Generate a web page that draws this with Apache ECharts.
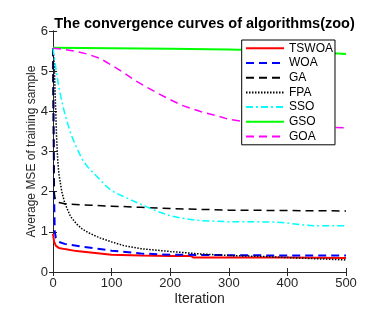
<!DOCTYPE html>
<html><head><meta charset="utf-8">
<script src="https://cdn.jsdelivr.net/npm/echarts@6/dist/echarts.min.js"></script>
<style>html,body{margin:0;padding:0;background:#fff}#c{width:371px;height:316px}</style>
</head><body><div id="c"></div>
<script>
const seriesNames = ['TSWOA','WOA','GA','FPA','SSO','GSO','GOA'];
const xTicks = [0,100,200,300,400,500];
const yTicks = [0,1,2,3,4,5,6];

const tswoaX = [0,2,5,10,20,40,60,80,100,150,200,235,240,300,400,500];
const tswoaY = [0.95,0.75,0.65,0.60,0.57,0.52,0.49,0.46,0.43,0.41,0.40,0.40,0.36,0.36,0.36,0.35];

const woaX = [0,1,2,3,5,10,20,50,80,100,150,200,300,400,500];
const woaY = [5.57,3.5,1.8,1.0,0.85,0.75,0.70,0.63,0.57,0.53,0.46,0.43,0.42,0.41,0.41];

const gaX = [0,1,2,4,10,20,50,100,150,200,250,300,400,500];
const gaY = [5.57,3.6,1.95,1.8,1.73,1.70,1.67,1.64,1.61,1.58,1.56,1.54,1.53,1.52];

const fpaX = [0,2,4,6,8,10,15,20,30,40,50,60,80,100,120,150,200,250,300,350,400,450,500];
const fpaY = [5.57,5.2,4.3,3.4,2.8,2.45,2.0,1.72,1.38,1.2,1.07,0.98,0.85,0.75,0.66,0.58,0.51,0.45,0.41,0.39,0.36,0.33,0.30];

const ssoX = [0,3,6,10,15,20,25,30,40,50,60,70,80,90,100,120,140,160,180,200,220,250,300,350,380,400,420,450,500];
const ssoY = [5.57,5.25,4.95,4.6,4.25,3.95,3.7,3.45,3.1,2.8,2.6,2.45,2.3,2.15,2.02,1.88,1.75,1.62,1.50,1.40,1.34,1.28,1.25,1.25,1.24,1.22,1.18,1.15,1.15];

const gsoX = [0,100,200,300,350,400,450,500];
const gsoY = [5.58,5.57,5.56,5.54,5.52,5.50,5.47,5.43];

const goaX = [0,20,40,60,80,100,120,140,160,180,200,220,240,260,280,300,350,400,450,500];
const goaY = [5.57,5.54,5.49,5.42,5.32,5.15,4.97,4.77,4.60,4.44,4.29,4.15,4.05,3.96,3.89,3.80,3.70,3.65,3.61,3.59];

function pairs(xs, ys){ return xs.map((x,i)=>[x, ys[i]]); }

const styles = [
  {color:'#ff0000', width:2, type:'solid'},
  {color:'#0000ff', width:2, type:[8,5]},
  {color:'#000000', width:1.5, type:[8,5]},
  {color:'#000000', width:1.5, type:[1.5,1.5]},
  {color:'#00ffff', width:1.5, type:[7,3,2,3]},
  {color:'#00ff00', width:2, type:'solid'},
  {color:'#ff00ff', width:1.5, type:[8,5]}
];
const dataSets = [pairs(tswoaX,tswoaY),pairs(woaX,woaY),pairs(gaX,gaY),pairs(fpaX,fpaY),pairs(ssoX,ssoY),pairs(gsoX,gsoY),pairs(goaX,goaY)];

const font = 'Liberation Sans, Arial, sans-serif';
const chart = echarts.init(document.getElementById('c'));
const axisCommon = {
  axisLine:{show:true,lineStyle:{color:'#262626',width:1}},
  axisTick:{show:true,inside:true,length:4,lineStyle:{color:'#262626'}},
  splitLine:{show:false}
};
chart.setOption({
  animation:false,
  backgroundColor:'#fff',
  title:{text:'The convergence curves of algorithms(zoo)',left:199.5,textAlign:'center',top:11,
    textStyle:{fontFamily:font,fontWeight:'bold',fontSize:14.5,color:'#000'}},
  grid:{left:53,right:25,top:31,bottom:44},
  legend:{orient:'vertical',left:241.7,top:40,padding:[2.3,2,2.3,3.3],itemWidth:38,itemHeight:10,itemGap:2.7,
    backgroundColor:'#fff',borderColor:'#000',borderWidth:1,
    itemStyle:{opacity:0},
    textStyle:{fontFamily:font,fontSize:12,color:'#000',lineHeight:10},
    data:seriesNames},
  xAxis:[
    Object.assign({type:'value',min:0,max:500,interval:100,name:'Iteration',nameLocation:'middle',nameGap:20,nameMoveOverlap:false,
      nameTextStyle:{fontFamily:font,fontSize:14,color:'#262626'},
      axisLabel:{fontFamily:font,fontSize:13,color:'#262626',margin:5}},axisCommon),
    Object.assign({type:'value',min:0,max:500,interval:100,position:'top',axisLabel:{show:false}},axisCommon)
  ],
  yAxis:[
    Object.assign({type:'value',min:0,max:6,interval:1,name:'Average MSE of training sample',nameLocation:'middle',nameGap:15,nameMoveOverlap:false,
      nameTextStyle:{fontFamily:font,fontSize:12,color:'#262626'},
      axisLabel:{fontFamily:font,fontSize:13,color:'#262626',margin:5}},axisCommon),
    Object.assign({type:'value',min:0,max:6,interval:1,position:'right',axisLabel:{show:false}},axisCommon)
  ],
  series:seriesNames.map((n,i)=>({
    name:n,type:'line',data:dataSets[i],symbol:'none',showSymbol:false,smooth:false,
    itemStyle:{color:styles[i].color},
    lineStyle:{color:styles[i].color,width:styles[i].width,type:styles[i].type}
  }))
});
</script></body></html>
